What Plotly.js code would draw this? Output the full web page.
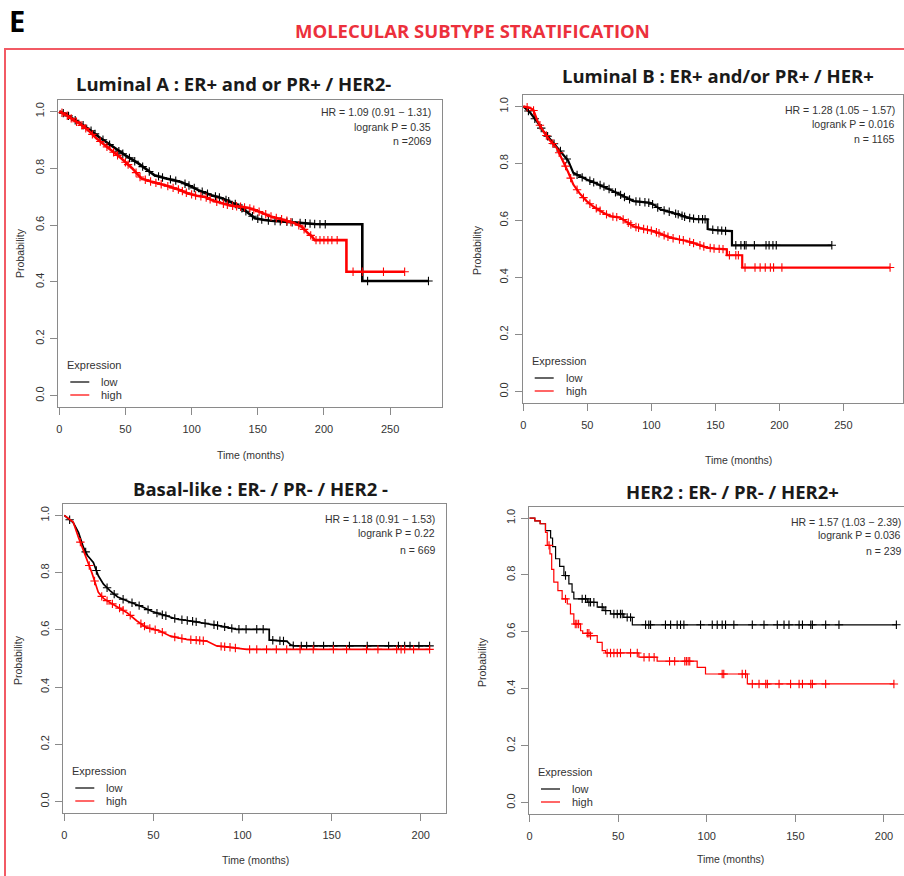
<!DOCTYPE html>
<html><head><meta charset="utf-8">
<script src="https://cdn.plot.ly/plotly-3.0.1.min.js"></script>
<style>html,body{margin:0;padding:0;background:#fff}#chart{width:904px;height:876px}</style>
</head><body><div id="chart"></div>
<script>
// ---------------- DATA ----------------
const figureLabel = 'E';
const mainTitle = 'MOLECULAR SUBTYPE STRATIFICATION';
const panelTitles = ['Luminal A : ER+ and or PR+ / HER2-', 'Luminal B : ER+ and/or PR+ / HER+',
                     'Basal-like : ER- / PR- / HER2 -', 'HER2 : ER- / PR- / HER2+'];
const statsText = [
  ['HR = 1.09 (0.91 \u2212 1.31)', 'logrank P = 0.35', 'n =2069'],
  ['HR = 1.28 (1.05 \u2212 1.57)', 'logrank P = 0.016', 'n = 1165'],
  ['HR = 1.18 (0.91 \u2212 1.53)', 'logrank P = 0.22', 'n = 669'],
  ['HR = 1.57 (1.03 \u2212 2.39)', 'logrank P = 0.036', 'n = 239']
];
const legendTitle = 'Expression';
const groupNames = ['low', 'high'];
const xAxisTitle = 'Time (months)';
const yAxisTitle = 'Probability';
const xTicksLong = [0, 50, 100, 150, 200, 250];
const xTicksShort = [0, 50, 100, 150, 200];
const yTicks = [0, 0.2, 0.4, 0.6, 0.8, 1.0];
const yTickText = ['0.0', '0.2', '0.4', '0.6', '0.8', '1.0'];

// Luminal A
const lumA_low_t = [0, 5, 10, 15, 22, 30, 36, 42, 50, 60, 66, 72, 80, 92, 100, 105, 115, 123, 130, 135, 142, 148, 155, 160, 170, 180, 193, 200, 229, 229, 279];
const lumA_low_s = [1.0, 0.99, 0.975, 0.96, 0.939, 0.91, 0.89, 0.869, 0.845, 0.816, 0.795, 0.775, 0.765, 0.752, 0.735, 0.723, 0.705, 0.694, 0.68, 0.670, 0.645, 0.624, 0.618, 0.615, 0.612, 0.608, 0.604, 0.603, 0.603, 0.403, 0.403];
const lumA_low_cens = [3, 7, 12, 18, 24, 27, 33, 38, 45, 48, 53, 57, 63, 68, 75, 78, 84, 88, 95, 98, 102, 108, 112, 118, 121, 126, 128, 133, 138, 141, 146, 150, 153, 158, 163, 167, 172, 176, 182, 186, 189.5, 193, 197, 201, 233, 279];
const lumA_high_t = [0, 5, 10, 15, 22, 28, 34.5, 40, 47, 55, 62, 70, 80, 90, 97.5, 104, 110, 116, 123, 130, 138, 143, 148, 155, 160.5, 170, 178, 183, 186, 188, 191, 193, 217, 217, 261];
const lumA_high_s = [1.0, 0.988, 0.972, 0.958, 0.933, 0.905, 0.881, 0.86, 0.834, 0.80, 0.764, 0.752, 0.740, 0.725, 0.711, 0.703, 0.699, 0.686, 0.676, 0.668, 0.664, 0.66, 0.653, 0.64, 0.629, 0.618, 0.606, 0.595, 0.58, 0.571, 0.56, 0.547, 0.547, 0.436, 0.436];
const lumA_high_cens = [2, 6, 9, 13, 17, 20, 25, 31, 36, 41, 44, 50, 52, 58, 61, 65, 69, 73, 77, 82, 86, 90, 93, 96, 100, 103, 107, 111, 114, 119, 124, 127, 131, 134, 137, 140, 144, 147, 151, 156, 160, 164, 168, 172, 175, 181, 185, 190, 194, 197, 200, 203, 206, 210, 222, 229, 245, 261];

// Luminal B
const lumB_low_t = [0, 5, 10.5, 15.6, 20, 23.4, 27, 31.3, 35, 39.1, 44, 49.5, 57, 65, 70, 75.5, 80, 86, 92, 99, 103, 107, 112, 117, 122, 128, 135, 144, 144, 150, 159, 163, 163, 241];
const lumB_low_s = [1.0, 0.98, 0.948, 0.913, 0.89, 0.872, 0.855, 0.831, 0.81, 0.767, 0.755, 0.744, 0.73, 0.715, 0.703, 0.691, 0.68, 0.668, 0.665, 0.662, 0.652, 0.639, 0.633, 0.627, 0.62, 0.61, 0.605, 0.604, 0.57, 0.566, 0.563, 0.563, 0.513, 0.513];
const lumB_low_cens = [4, 9, 14, 19, 24, 29, 34, 42, 46, 52, 55, 60, 63, 67, 72, 76, 79, 83, 88, 91, 95, 98, 101, 105, 110, 114, 119, 121, 124, 126, 130, 133, 137, 140, 142, 148, 152, 155, 158, 166, 170, 172.7, 174, 180.5, 189.6, 192, 195, 197.6, 241];
const lumB_high_t = [0, 5, 7.8, 11, 15.6, 20, 26, 31.3, 35, 39.1, 44, 49.5, 55, 62.5, 68, 75.5, 80, 85.9, 92, 101.6, 108, 114.6, 120, 127.7, 135, 143.3, 150, 159, 159, 171, 171, 286.5];
const lumB_high_s = [1.0, 0.995, 0.988, 0.95, 0.913, 0.885, 0.855, 0.808, 0.77, 0.726, 0.695, 0.668, 0.648, 0.627, 0.615, 0.61, 0.598, 0.58, 0.572, 0.563, 0.552, 0.54, 0.535, 0.528, 0.518, 0.505, 0.501, 0.499, 0.478, 0.478, 0.435, 0.435];
const lumB_high_cens = [3, 8, 13, 18, 23, 28, 33, 37, 42, 47, 52, 57, 60, 65, 70, 73, 78, 82, 84, 88, 90, 94, 97, 100, 104, 106, 110, 113, 117, 122, 125, 130, 133, 138, 141, 146, 149, 153, 156, 161, 166, 168, 173.2, 181, 185, 189, 193, 195.5, 202, 286.5];

// Basal-like
const basal_low_t = [0, 5, 8, 10.7, 13, 16.3, 19.1, 22, 25.6, 30, 35, 40, 44.3, 49, 53.7, 58, 63, 70, 76.2, 82, 87.4, 92, 96.7, 115, 115, 125, 127, 129, 205];
const basal_low_s = [1.0, 0.975, 0.94, 0.889, 0.86, 0.836, 0.789, 0.76, 0.737, 0.715, 0.702, 0.69, 0.679, 0.665, 0.655, 0.648, 0.638, 0.632, 0.626, 0.62, 0.614, 0.608, 0.602, 0.602, 0.565, 0.56, 0.548, 0.544, 0.544];
const basal_low_cens = [3, 12, 18, 24, 28, 33, 38, 42, 47, 52, 55, 57, 62, 66, 69, 72, 74, 79, 84, 86, 90, 94, 98, 102, 108, 111.6, 117, 121, 123, 128.5, 133, 136, 140, 145.5, 151, 160, 170, 182, 187.5, 191, 194, 199, 205];
const basal_high_t = [0, 5, 7.9, 11.6, 15.4, 19.1, 22, 25.6, 30, 35, 40.6, 46.2, 53.7, 59.3, 64, 68.7, 79.9, 85.5, 92, 98, 102.4, 205];
const basal_high_s = [1.0, 0.977, 0.924, 0.866, 0.801, 0.731, 0.71, 0.696, 0.68, 0.661, 0.632, 0.608, 0.596, 0.579, 0.572, 0.567, 0.561, 0.544, 0.54, 0.535, 0.532, 0.532];
const basal_high_cens = [9, 14, 17, 21, 24, 27, 31, 33, 37, 43, 45, 48, 51, 55, 62, 66, 71, 74, 76, 78, 88, 90, 93, 96, 104, 108, 113.5, 119, 124.8, 132.3, 139.7, 151, 158.4, 169.6, 176, 186.5, 189, 191, 196, 205];

// HER2 (step events: time, survival after event)
const her2_low_t = [0, 3, 6, 9, 11.9, 13, 14.7, 17, 19.4, 22.2, 24, 25, 32.6, 38.2, 42, 45.7, 53.2, 58, 207];
const her2_low_s = [1.0, 0.99, 0.98, 0.956, 0.93, 0.9, 0.857, 0.83, 0.798, 0.769, 0.74, 0.716, 0.704, 0.687, 0.675, 0.663, 0.651, 0.625, 0.625];
const her2_low_cens = [20.3, 29.7, 31.6, 33.5, 34.4, 36.3, 41, 43, 47.6, 49.5, 51.3, 52.3, 55.1, 57, 65.5, 67.3, 68.3, 76.7, 79.6, 83.3, 85.2, 87.1, 96.5, 103.1, 105.9, 108.7, 110.6, 115.3, 125.7, 132.3, 139.8, 143.6, 146.4, 152.1, 154, 158.7, 159.6, 167.1, 174.6, 207];
const her2_high_t = [0, 3, 6, 9, 10, 11.5, 12.5, 13.7, 16, 18.4, 21.3, 23.1, 25, 28.8, 30, 34.4, 38.2, 41, 42.9, 61.7, 72, 94.6, 99.3, 122.9, 205.6];
const her2_high_s = [1.0, 0.99, 0.98, 0.95, 0.904, 0.874, 0.82, 0.775, 0.745, 0.716, 0.698, 0.663, 0.628, 0.604, 0.595, 0.587, 0.563, 0.534, 0.526, 0.511, 0.497, 0.475, 0.452, 0.417, 0.417];
const her2_high_cens = [11, 20.3, 25.8, 26.7, 27.7, 32.6, 33.5, 34.4, 43.8, 45.7, 47.6, 49.5, 51.3, 57, 60.8, 64.6, 67.5, 70.3, 79, 81.9, 87.6, 88.5, 89.5, 90.4, 108.7, 109.6, 120, 121.9, 125.7, 129.5, 133.3, 134.2, 140.8, 147.3, 152.1, 154, 158.7, 159.6, 167.1, 205.6];

// ---------------- LAYOUT ----------------
const W = 904, H = 876;
const PX = x => x / W, PY = y => 1 - y / H;
const RFONT = 'Liberation Sans, Arial, sans-serif';
const TFONT = 'Open Sans, sans-serif';
const colors = ['#000000', '#ff0000'];

const panels = [
  {box: [58.3, 100, 441.7, 407], xr: [-0.76, 289], ticks: xTicksLong, step: false, lw: 2.6,
   low: [lumA_low_t, lumA_low_s, lumA_low_cens], high: [lumA_high_t, lumA_high_s, lumA_high_cens],
   title: [233, 84], statX: 433, statY: [112, 127, 141], xt: [250, 455], yt: [20, 253], mirrorY: true},
  {box: [522.7, 95, 903, 403], xr: [-0.47, 296.6], ticks: xTicksLong, step: false, lw: 2.2,
   low: [lumB_low_t, lumB_low_s, lumB_low_cens], high: [lumB_high_t, lumB_high_s, lumB_high_cens],
   title: [718, 75], statX: 897, statY: [110, 124, 139], xt: [738, 460], yt: [477, 250], mirrorY: true},
  {box: [63.3, 504, 446, 813], xr: [-0.56, 214.2], ticks: xTicksShort, step: false, lw: 1.7,
   low: [basal_low_t, basal_low_s, basal_low_cens], high: [basal_high_t, basal_high_s, basal_high_cens],
   title: [260, 488], statX: 437, statY: [519, 533, 550], xt: [255, 860], yt: [18, 660], mirrorY: true},
  {box: [529, 506.7, 904, 814], xr: [-0.3, 211.3], ticks: xTicksShort, step: true, lw: 1.2,
   low: [her2_low_t, her2_low_s, her2_low_cens], high: [her2_high_t, her2_high_s, her2_high_cens],
   title: [732, 491], statX: 903, statY: [522, 535, 551], xt: [730, 859], yt: [482, 662], mirrorY: false}
];

function valueAt(ts, ss, t, step) {
  if (step) {
    let v = ss[0];
    for (let i = 0; i < ts.length; i++) { if (ts[i] <= t) v = ss[i]; else break; }
    return v;
  }
  for (let i = 1; i < ts.length; i++) {
    if (t <= ts[i]) {
      const t0 = ts[i - 1], t1 = ts[i];
      if (t1 === t0) return ss[i];
      return ss[i - 1] + (ss[i] - ss[i - 1]) * (t - t0) / (t1 - t0);
    }
  }
  return ss[ss.length - 1];
}

const traces = [];
const layout = {
  width: W, height: H, margin: {l: 0, r: 0, t: 0, b: 0},
  paper_bgcolor: '#fff', plot_bgcolor: '#fff', showlegend: false,
  annotations: [], shapes: []
};

function ann(text, x, y, o) {
  layout.annotations.push(Object.assign({
    text: text, x: PX(x), y: PY(y), xref: 'paper', yref: 'paper', showarrow: false,
    xanchor: 'center', yanchor: 'middle', font: {family: RFONT, size: 11, color: '#333'}
  }, o || {}));
}

// header
ann('<b>' + figureLabel + '</b>', 17, 21, {font: {family: TFONT, size: 29, color: '#000'}});
ann('<b>' + mainTitle + '</b>', 473, 30, {font: {family: TFONT, size: 18.5, color: 'rgb(236,48,60)'}});
layout.shapes.push({type: 'rect', xref: 'paper', yref: 'paper', x0: PX(5), x1: PX(912), y0: PY(884), y1: PY(49),
  line: {color: 'rgb(242,90,100)', width: 2}, layer: 'below'});

panels.forEach((p, i) => {
  const n = i === 0 ? '' : String(i + 1);
  const xa = 'x' + n, ya = 'y' + n;
  const [l, t, r, b] = p.box;
  const axCommon = {
    showgrid: false, zeroline: false, showline: true, linecolor: '#8a8a8a', linewidth: 1,
    ticks: 'outside', ticklen: 7, tickcolor: '#8a8a8a', tickwidth: 1,
    tickfont: {family: RFONT, size: 11, color: '#333'}, fixedrange: true
  };
  layout['xaxis' + n] = Object.assign({}, axCommon, {
    domain: [PX(l), Math.min(1, PX(r))], range: p.xr, anchor: ya, mirror: true,
    tickvals: p.ticks, ticktext: p.ticks.map(String), ticklabelstandoff: 5
  });
  layout['yaxis' + n] = Object.assign({}, axCommon, {
    domain: [PY(b), PY(t)], range: [-0.04, 1.04], anchor: xa, mirror: p.mirrorY,
    tickvals: yTicks, ticktext: yTickText, tickangle: -90, ticklabelstandoff: 2
  });

  [p.low, p.high].forEach((g, gi) => {
    const [ts, ss, cens] = g;
    traces.push({type: 'scatter', mode: 'lines', x: ts, y: ss, xaxis: xa, yaxis: ya,
      name: groupNames[gi], line: {color: colors[gi], width: p.lw, shape: p.step ? 'hv' : 'linear'},
      hoverinfo: 'skip'});
    traces.push({type: 'scatter', mode: 'markers', x: cens, y: cens.map(c => valueAt(ts, ss, c, p.step)),
      xaxis: xa, yaxis: ya, showlegend: false, hoverinfo: 'skip',
      marker: {symbol: 'cross-thin-open', size: 6, color: colors[gi], line: {color: colors[gi], width: 1.1}}});
  });

  // panel title
  ann('<b>' + panelTitles[i] + '</b>', p.title[0], p.title[1], {font: {family: TFONT, size: 18.5, color: '#1a1a1a'}});
  // stats
  statsText[i].forEach((s, k) => ann(s, p.statX, p.statY[k], {xanchor: 'right', font: {family: RFONT, size: 10.5, color: '#333'}}));
  // axis titles
  ann(xAxisTitle, p.xt[0], p.xt[1], {font: {family: RFONT, size: 10.5, color: '#333'}});
  ann(yAxisTitle, p.yt[0], p.yt[1], {textangle: -90, font: {family: RFONT, size: 10.5, color: '#333'}});
  // legend (R style, inside the box)
  ann(legendTitle, l + 7, b - 42, {xanchor: 'left', font: {family: RFONT, size: 11, color: '#333'}});
  groupNames.forEach((g, gi) => {
    const yy = b - 25 + gi * 13;
    layout.shapes.push({type: 'line', xref: 'paper', yref: 'paper', x0: PX(l + 12), x1: PX(l + 31),
      y0: PY(yy), y1: PY(yy), line: {color: colors[gi], width: 1.2}});
    ann(g, l + 41, yy, {xanchor: 'left', font: {family: RFONT, size: 11, color: '#333'}});
  });
});

Plotly.newPlot('chart', traces, layout, {staticPlot: true, displayModeBar: false});
</script></body></html>
